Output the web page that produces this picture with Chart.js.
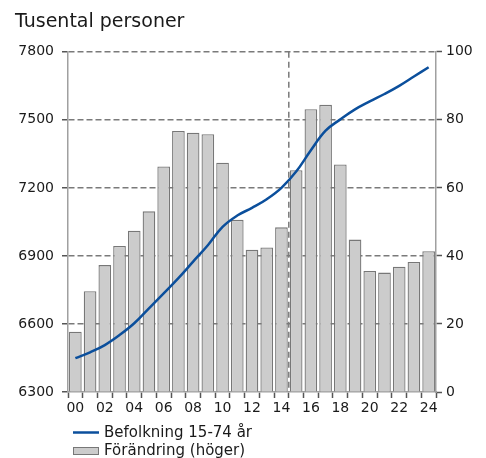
<!DOCTYPE html>
<html>
<head>
<meta charset="utf-8">
<script src="https://cdn.jsdelivr.net/npm/chart.js@4"></script>
<style>
  html, body { margin: 0; padding: 0; background: #ffffff; }
  #wrap { width: 486px; height: 458px; position: relative; }
</style>
</head>
<body>
<div id="wrap"><canvas id="c" width="486" height="458"></canvas></div>
<script>
const years = ['00','01','02','03','04','05','06','07','08','09','10','11','12','13','14','15','16','17','18','19','20','21','22','23','24'];
const population = [6449, 6475, 6507, 6551, 6603, 6669, 6735, 6802, 6875, 6947, 7028, 7078, 7112, 7150, 7200, 7272, 7366, 7452, 7502, 7546, 7581, 7614, 7650, 7691, 7732];
const change = [17.7, 29.6, 37.3, 42.9, 47.4, 53.1, 66.3, 76.7, 76.2, 75.8, 67.4, 50.6, 41.8, 42.5, 48.4, 65.2, 83.1, 84.4, 66.9, 44.8, 35.6, 35.1, 36.8, 38.2, 41.4];
const titleText = 'Tusental personer';
const lineLabel = 'Befolkning 15-74 år';
const barLabel = 'Förändring (höger)';
const forecastStartIndex = 15;

const FONT = "'DejaVu Sans', Verdana, sans-serif";
const BLUE = '#0b4f9c';
const GRID = '#7a7a7a';
const AXIS = '#a0a0a0';
const TEXT = '#1a1a1a';

const forecastLine = {
  id: 'forecastLine',
  afterDatasetsDraw(chart) {
    const x = chart.scales.x;
    const area = chart.chartArea;
    const px = (x.getPixelForValue(forecastStartIndex - 1) + x.getPixelForValue(forecastStartIndex)) / 2;
    const ctx = chart.ctx;
    ctx.save();
    ctx.strokeStyle = GRID;
    ctx.lineWidth = 1.5;
    ctx.setLineDash([6, 4]);
    ctx.beginPath();
    ctx.moveTo(px, area.top);
    ctx.lineTo(px, area.bottom);
    ctx.stroke();
    ctx.restore();
  }
};

const customLegend = {
  id: 'customLegend',
  afterDraw(chart) {
    const ctx = chart.ctx;
    ctx.save();
    ctx.font = '15px ' + FONT;
    ctx.fillStyle = TEXT;
    ctx.textBaseline = 'middle';
    ctx.textAlign = 'left';
    ctx.strokeStyle = BLUE;
    ctx.lineWidth = 2.5;
    ctx.beginPath();
    ctx.moveTo(73, 432.5);
    ctx.lineTo(99, 432.5);
    ctx.stroke();
    ctx.fillText(chart.data.datasets[0].label, 104, 433);
    ctx.fillStyle = '#cccccc';
    ctx.fillRect(73, 447, 26, 8);
    ctx.strokeStyle = '#777777';
    ctx.lineWidth = 1;
    ctx.strokeRect(73.5, 447.5, 25, 7);
    ctx.fillStyle = TEXT;
    ctx.fillText(chart.data.datasets[1].label, 104, 451);
    ctx.restore();
  }
};

new Chart(document.getElementById('c'), {
  data: {
    labels: years,
    datasets: [
      {
        type: 'line',
        label: lineLabel,
        data: population,
        yAxisID: 'y',
        borderColor: BLUE,
        backgroundColor: BLUE,
        borderWidth: 2.5,
        pointRadius: 0,
        tension: 0.4,
        order: 0
      },
      {
        type: 'bar',
        label: barLabel,
        data: change,
        yAxisID: 'y1',
        backgroundColor: '#cccccc',
        borderColor: '#777777',
        borderWidth: 1.3,
        barPercentage: 0.86,
        categoryPercentage: 1.0,
        order: 1
      }
    ]
  },
  options: {
    responsive: false,
    animation: false,
    devicePixelRatio: 1,
    layout: { padding: { left: 15, right: 0, top: 0, bottom: 40 } },
    plugins: {
      legend: { display: false },
      tooltip: { enabled: false },
      title: {
        display: true,
        text: titleText,
        align: 'start',
        color: TEXT,
        font: { family: FONT, size: 19, weight: 'normal', lineHeight: 1.2 },
        padding: { top: 11, bottom: 18 }
      }
    },
    scales: {
      x: {
        type: 'category',
        offset: true,
        afterFit(s) { s.height = 26; },
        grid: { offset: true, drawOnChartArea: false, drawTicks: true, tickLength: 6, tickColor: '#555555', tickWidth: 1.5 },
        border: { color: AXIS, width: 1.5 },
        ticks: {
          autoSkip: false, maxRotation: 0, minRotation: 0, padding: 2,
          color: TEXT, font: { family: FONT, size: 14 },
          callback(v, i) { return i % 2 === 0 ? years[i] : ''; }
        }
      },
      y: {
        type: 'linear',
        position: 'left',
        min: 6300, max: 7800,
        afterFit(s) { s.width = 53; },
        grid: {
          color(ctx) { return ctx.tick && ctx.tick.value === 6300 ? 'rgba(0,0,0,0)' : GRID; },
          lineWidth: 1.5, tickLength: 6, tickColor: '#555555', tickWidth: 1.5, tickBorderDash: []
        },
        border: { color: AXIS, width: 1.5, dash: [6, 3] },
        ticks: {
          stepSize: 300, padding: 8, color: TEXT, font: { family: FONT, size: 14 },
          callback(v) { return String(v); }
        }
      },
      y1: {
        type: 'linear',
        position: 'right',
        min: 0, max: 100,
        afterFit(s) { s.width = 50; },
        grid: { drawOnChartArea: false, tickLength: 6, tickColor: '#555555', tickWidth: 1.5 },
        border: { color: AXIS, width: 1.5 },
        ticks: {
          stepSize: 20, padding: 4, color: TEXT, font: { family: FONT, size: 14 },
          callback(v) { return String(v); }
        }
      }
    }
  },
  plugins: [forecastLine, customLegend]
});
</script>
</body>
</html>
